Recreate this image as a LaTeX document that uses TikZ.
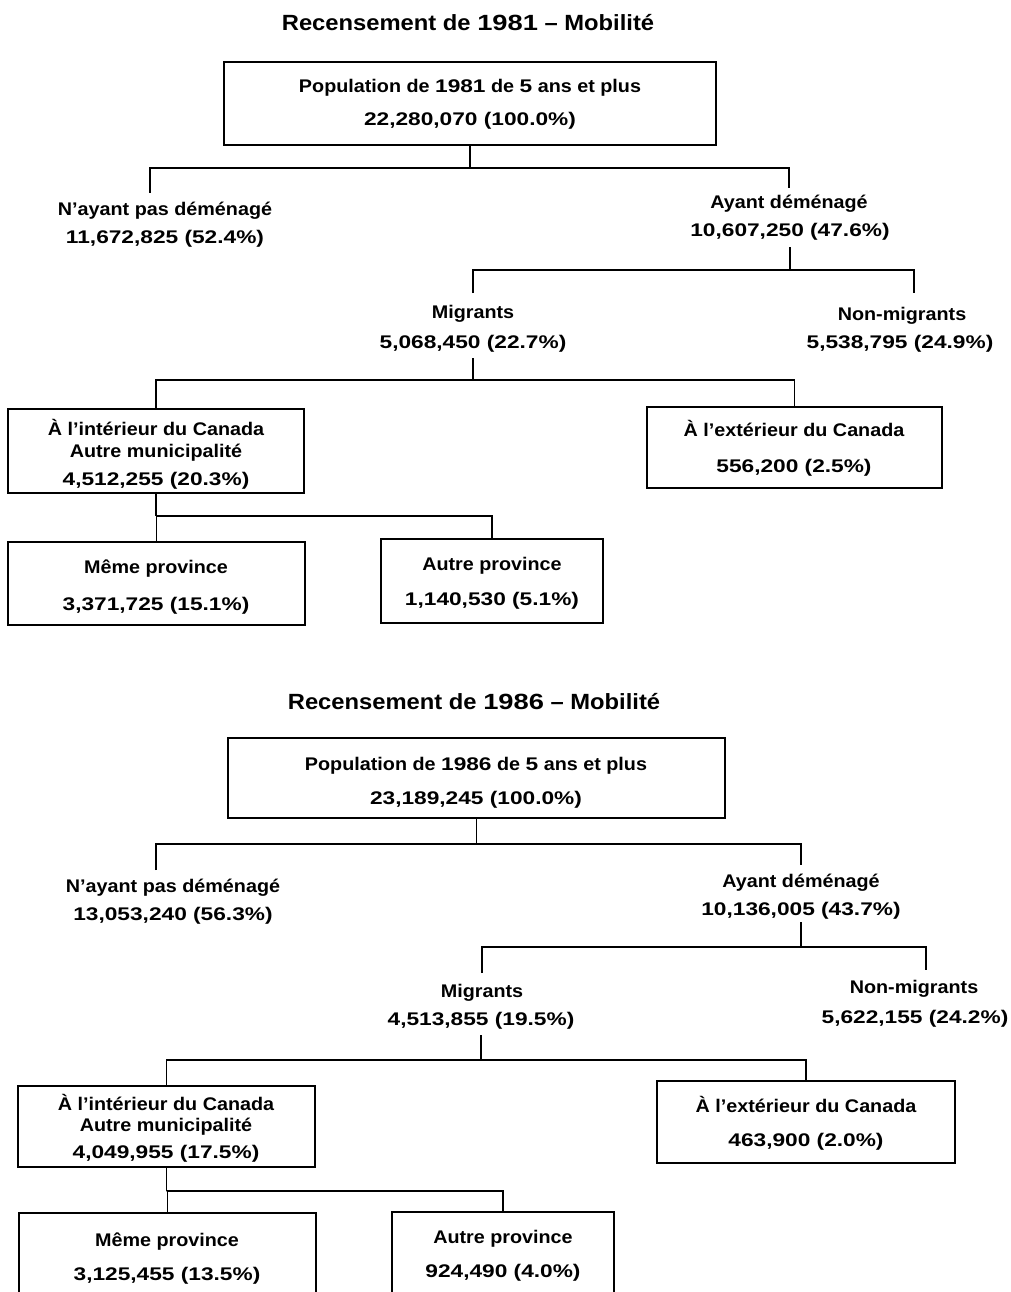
\documentclass[tikz,border=0pt]{standalone}
\usepackage{fontspec}
\setmainfont{Liberation Sans}[FakeStretch=1.08]
\newfontfamily\nf{Liberation Sans}[FakeStretch=1.24]
\begin{document}
\begin{tikzpicture}[x=1pt,y=-1pt,
  box/.style={draw, line width=1.8pt, inner sep=0pt},
  txt/.style={font=\bfseries\fontsize{18.3}{22}\selectfont, inner sep=0pt, anchor=base},
  ttl/.style={font=\bfseries\fontsize{22}{26}\selectfont, inner sep=0pt, anchor=base},
  link/.style={line width=1.8pt}]
\useasboundingbox (0,0) rectangle (1010,1292);
\fill[white] (0,0) rectangle (1010,1292);
\clip (0,0) rectangle (1010,1292);

% ---------------- 1981 ----------------
\node[ttl] (t81) at (468,31) {Recensement de {\nf 1981} – Mobilité};
\node[box, minimum width=492pt, minimum height=83pt] (b81) at (470,103.5) {};
\node[txt] (b81a) at (470,93) {Population de {\nf 1981} de {\nf 5} ans et plus};
\node[txt] (b81b) at (470,126) {\nf 22,280,070 (100.0\%)};

\node[txt] (n81) at (165,215) {N'ayant pas déménagé};
\node[txt] (n81b) at (165,243) {\nf 11,672,825 (52.4\%)};
\node[txt] (a81) at (789,208) {Ayant déménagé};
\node[txt] (a81b) at (790,236) {\nf 10,607,250 (47.6\%)};
\draw[link] (b81.south) -- ++(0,22) coordinate (j81a);
\draw[link] ([xshift=-15pt,yshift=22pt]n81.base) |- (j81a) -| ([yshift=20pt]a81.base);

\node[txt] (m81) at (473,318) {Migrants};
\node[txt] (m81b) at (473,348) {\nf 5,068,450 (22.7\%)};
\node[txt] (nm81) at (902,320) {Non-migrants};
\node[txt] (nm81b) at (900,348) {\nf 5,538,795 (24.9\%)};
\draw[link] ([yshift=-11pt]a81b.base) -- ++(0,23) coordinate (j81b);
\draw[link] ([yshift=25pt]m81.base) |- (j81b) -| ([xshift=12pt,yshift=27pt]nm81.base);

\node[box, minimum width=296pt, minimum height=84pt] (bi81) at (156,451) {};
\node[txt] (bi81a) at (156,435) {À l'intérieur du Canada};
\node[txt] (bi81b) at (156,457) {Autre municipalité};
\node[txt] (bi81c) at (156,485) {\nf 4,512,255 (20.3\%)};
\node[box, minimum width=295pt, minimum height=81pt] (be81) at (794.5,447.5) {};
\node[txt] (be81a) at (794,436) {À l'extérieur du Canada};
\node[txt] (be81b) at (794,472) {\nf 556,200 (2.5\%)};
\draw[link] ([yshift=-10pt]m81b.base) -- ++(0,22) coordinate (j81c);
\draw[link] (bi81.north) |- (j81c) -| (be81.north);

\node[box, minimum width=297pt, minimum height=83pt] (bm81) at (156.5,583.5) {};
\node[txt] (bm81a) at (156,573) {Même province};
\node[txt] (bm81b) at (156,610) {\nf 3,371,725 (15.1\%)};
\node[box, minimum width=222pt, minimum height=84pt] (ba81) at (492,581) {};
\node[txt] (ba81a) at (492,570) {Autre province};
\node[txt] (ba81b) at (492,605) {\nf 1,140,530 (5.1\%)};
\draw[link] (bi81.south) -- ++(0,22) coordinate (j81d);
\draw[link] (bm81.north) |- (j81d) -| (ba81.north);

% ---------------- 1986 ----------------
\node[ttl] (t86) at (474,709) {Recensement de {\nf 1986} – Mobilité};
\node[box, minimum width=497pt, minimum height=80pt] (b86) at (476.5,778) {};
\node[txt] (b86a) at (476,770) {Population de {\nf 1986} de {\nf 5} ans et plus};
\node[txt] (b86b) at (476,804) {\nf 23,189,245 (100.0\%)};

\node[txt] (n86) at (173,892) {N'ayant pas déménagé};
\node[txt] (n86b) at (173,920) {\nf 13,053,240 (56.3\%)};
\node[txt] (a86) at (801,887) {Ayant déménagé};
\node[txt] (a86b) at (801,915) {\nf 10,136,005 (43.7\%)};
\draw[link] (b86.south) -- ++(0,25) coordinate (j86a);
\draw[link] ([xshift=-17pt,yshift=22pt]n86.base) |- (j86a) -| ([yshift=22pt]a86.base);

\node[txt] (m86) at (482,997) {Migrants};
\node[txt] (m86b) at (481,1025) {\nf 4,513,855 (19.5\%)};
\node[txt] (nm86) at (914,993) {Non-migrants};
\node[txt] (nm86b) at (915,1023) {\nf 5,622,155 (24.2\%)};
\draw[link] ([yshift=-7pt]a86b.base) -- ++(0,25) coordinate (j86b);
\draw[link] ([yshift=24pt]m86.base) |- (j86b) -| ([xshift=12pt,yshift=23pt]nm86.base);

\node[box, minimum width=297pt, minimum height=81pt] (bi86) at (166.5,1126.5) {};
\node[txt] (bi86a) at (166,1110) {À l'intérieur du Canada};
\node[txt] (bi86b) at (166,1131) {Autre municipalité};
\node[txt] (bi86c) at (166,1158) {\nf 4,049,955 (17.5\%)};
\node[box, minimum width=298pt, minimum height=82pt] (be86) at (806,1122) {};
\node[txt] (be86a) at (806,1112) {À l'extérieur du Canada};
\node[txt] (be86b) at (806,1146) {\nf 463,900 (2.0\%)};
\draw[link] ([yshift=-10pt]m86b.base) -- ++(0,25) coordinate (j86c);
\draw[link] (bi86.north) |- (j86c) -| (be86.north);

\node[box, minimum width=297pt, minimum height=117pt] (bm86) at (167.5,1271.5) {};
\node[txt] (bm86a) at (167,1246) {Même province};
\node[txt] (bm86b) at (167,1280) {\nf 3,125,455 (13.5\%)};
\node[box, minimum width=222pt, minimum height=118pt] (ba86) at (503,1271) {};
\node[txt] (ba86a) at (503,1243) {Autre province};
\node[txt] (ba86b) at (503,1277) {\nf 924,490 (4.0\%)};
\draw[link] (bi86.south) -- ++(0,23) coordinate (j86d);
\draw[link] (bm86.north) |- (j86d) -| (ba86.north);
\end{tikzpicture}
\end{document}
